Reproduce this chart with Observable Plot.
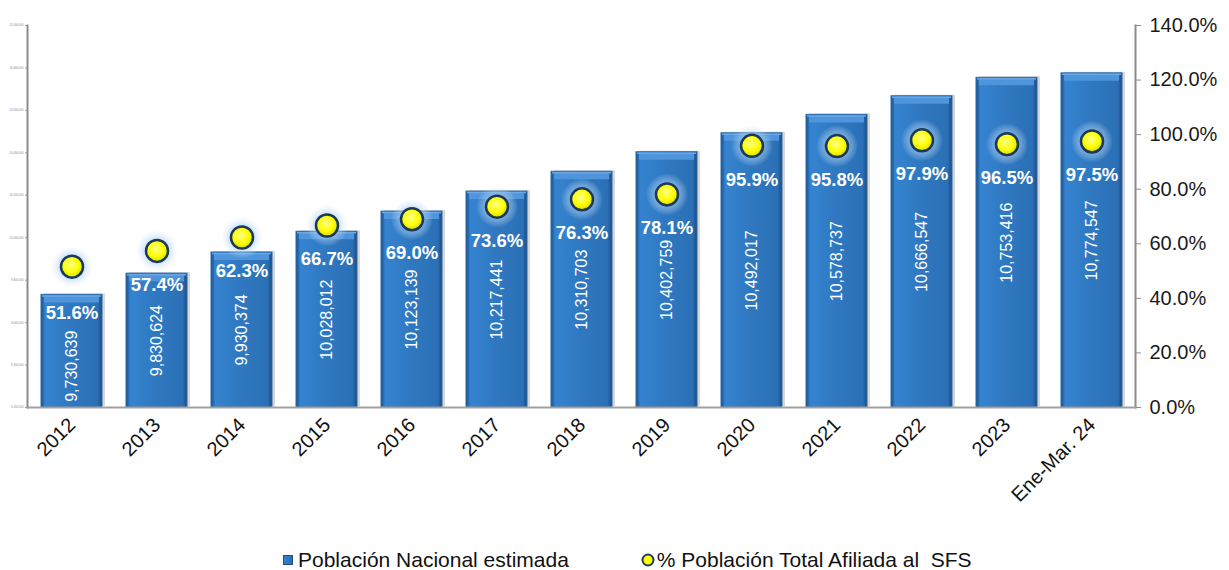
<!DOCTYPE html>
<html>
<head>
<meta charset="utf-8">
<script src="https://cdn.jsdelivr.net/npm/d3@7"></script>
<script src="https://cdn.jsdelivr.net/npm/@observablehq/plot@0.6"></script>
<style>
  html, body { margin: 0; padding: 0; background: #fff; width: 1229px; height: 570px; overflow: hidden; }
  body { position: relative; font-family: "Liberation Sans", Arial, sans-serif; }
  #chart { position: absolute; left: 0; top: 0; }
  #legend { position: absolute; left: 283px; top: 545px; height: 30px; display: flex; align-items: center; font-size: 21px; color: #111; white-space: pre; }
  .item { display: flex; align-items: center; }
</style>
</head>
<body>
<svg width="0" height="0" style="position:absolute">
  <defs>
    <linearGradient id="barGrad" x1="0" x2="1" y1="0" y2="0">
      <stop offset="0" stop-color="#1b4f88"/>
      <stop offset="0.07" stop-color="#3583d0"/>
      <stop offset="0.5" stop-color="#2f78c0"/>
      <stop offset="0.93" stop-color="#2b70b6"/>
      <stop offset="1" stop-color="#1a4a7e"/>
    </linearGradient>
    <radialGradient id="glowGrad" cx="0.5" cy="0.5" r="0.5">
      <stop offset="0" stop-color="#8fbdf0" stop-opacity="0.9"/>
      <stop offset="0.55" stop-color="#a9cdf3" stop-opacity="0.6"/>
      <stop offset="1" stop-color="#d6e8fb" stop-opacity="0"/>
    </radialGradient>
    <radialGradient id="dotGrad" cx="0.45" cy="0.4" r="0.6">
      <stop offset="0" stop-color="#ffff8a"/>
      <stop offset="0.6" stop-color="#ffff00"/>
      <stop offset="1" stop-color="#d8d800"/>
    </radialGradient>
  </defs>
</svg>
<div id="chart"></div>
<div id="legend">
  <div class="item"><svg width="10" height="10" style="margin-right:5px"><rect x="0.5" y="0.5" width="9" height="9" fill="url(#barGrad)" stroke="#1d4f85" stroke-width="1"/></svg><span>Población Nacional estimada</span></div>
  <div class="item" style="margin-left:72px"><svg width="14" height="14" style="margin-right:2px"><circle cx="7" cy="7" r="5.5" fill="#ffff00" stroke="#1d3c5c" stroke-width="2"/></svg><span>% Población Total Afiliada al  SFS</span></div>
</div>
<script>
const categories = ["2012","2013","2014","2015","2016","2017","2018","2019","2020","2021","2022","2023","Ene-Mar. 24"];
const population = [9730639, 9830624, 9930374, 10028012, 10123139, 10217441, 10310703, 10402759, 10492017, 10578737, 10666547, 10753416, 10774547];
const affiliatedPct = [51.6, 57.4, 62.3, 66.7, 69.0, 73.6, 76.3, 78.1, 95.9, 95.8, 97.9, 96.5, 97.5];
const popTicks = [9200000, 9400000, 9600000, 9800000, 10000000, 10200000, 10400000, 10600000, 10800000, 11000000];
const pctTicks = [0, 20, 40, 60, 80, 100, 120, 140];

const yMin = 9200000, yMax = 11000000, pMax = 140;
const toPop = p => yMin + p / pMax * (yMax - yMin);
const toPct = v => (v - yMin) / (yMax - yMin) * pMax;

const data = categories.map((c, i) => ({
  cat: c,
  pop: population[i],
  pct: affiliatedPct[i],
  pctY: toPop(affiliatedPct[i]),
  mid: (yMin + population[i]) / 2
}));
const first = d => d.cat === categories[0];
const rest = d => d.cat !== categories[0];

const chart = Plot.plot({
  width: 1229,
  height: 532,
  marginLeft: 27,
  marginRight: 94,
  marginTop: 25,
  marginBottom: 125,
  style: { fontFamily: "'Liberation Sans', Arial, sans-serif", color: "#111", background: "transparent" },
  x: { domain: categories, paddingInner: 0.285, paddingOuter: 0.13 },
  y: { domain: [yMin, yMax] },
  marks: [
    Plot.barY(data, { x: "cat", y1: yMin, y2: "pop", fill: "#9a9a9a", fillOpacity: 0.4, dx: 3, dy: -1 }),
    Plot.barY(data, { x: "cat", y1: yMin, y2: "pop", fill: "url(#barGrad)", stroke: "#2a6aab", strokeWidth: 1 }),
    Plot.tickY(data, { x: "cat", y: "pop", stroke: "#4f95dc", strokeWidth: 7, dy: 4, insetLeft: 3, insetRight: 3 }),
    Plot.tickY(data, { x: "cat", y: "pop", stroke: "#6aa7e6", strokeWidth: 1.5, dy: 1, insetLeft: 1, insetRight: 1 }),
    Plot.frame({ anchor: "left", stroke: "#8c8c8c", strokeWidth: 2 }),
    Plot.frame({ anchor: "right", stroke: "#8c8c8c", strokeWidth: 2 }),
    Plot.frame({ anchor: "bottom", stroke: "#a0a0a0", strokeWidth: 2 }),
    Plot.axisY({ anchor: "left", ticks: popTicks, tickFormat: d3.format(","), fontSize: 2.8, tickSize: 2, tickPadding: 2, stroke: "#999", color: "#888", label: null }),
    Plot.axisY({ anchor: "right", ticks: pctTicks.map(toPop), tickFormat: v => toPct(v).toFixed(1) + "%", fontSize: 20, tickSize: 5, tickPadding: 9, stroke: "#8c8c8c", color: "#1a1a1a", label: null }),
    Plot.axisX({ tickRotate: -45, fontSize: 20, tickSize: 0, tickPadding: 14, color: "#111", label: null }),
    Plot.text(data.filter(rest), { x: "cat", y: "mid", text: d => d3.format(",")(d.pop), rotate: -90, fill: "white", fontSize: 16 }),
    Plot.text(data.filter(first), { x: "cat", y: "mid", text: d => d3.format(",")(d.pop), rotate: -90, fill: "white", fontSize: 16, dy: 15 }),
    Plot.dot(data, { x: "cat", y: "pctY", r: 21, fill: "url(#glowGrad)", stroke: null }),
    Plot.dot(data, { x: "cat", y: "pctY", r: 11, fill: "url(#dotGrad)", stroke: "#1b3a5a", strokeWidth: 2.5 }),
    Plot.text(data.filter(rest), { x: "cat", y: "pctY", text: d => d.pct.toFixed(1) + "%", fill: "white", fontSize: 18.5, fontWeight: "bold", dy: 34 }),
    Plot.text(data.filter(first), { x: "cat", y: "pctY", text: d => d.pct.toFixed(1) + "%", fill: "white", fontSize: 18.5, fontWeight: "bold", dy: 46 })
  ]
});
document.getElementById("chart").appendChild(chart);
</script>
</body>
</html>
